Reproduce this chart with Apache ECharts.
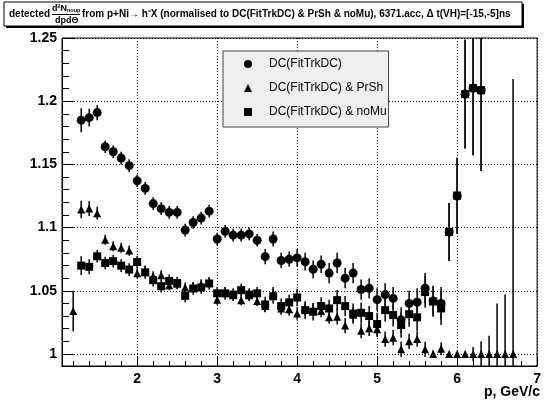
<!DOCTYPE html>
<html>
<head>
<meta charset="utf-8">
<script src="https://cdn.jsdelivr.net/npm/echarts@6/dist/echarts.min.js"></script>
<style>html,body{margin:0;padding:0;background:#fff}#c{width:544px;height:407px}</style>
</head>
<body>
<div id="c"></div>
<script>
// ---- data ----
const pCirc = [1.3,1.4,1.5,1.6,1.7,1.8,1.9,2.0,2.1,2.2,2.3,2.4,2.5,2.6,2.7,2.8,2.9,3.0,3.1,3.2,3.3,3.4,3.5,3.6,3.7,3.8,3.9,4.0,4.1,4.2,4.3,4.4,4.5,4.6,4.7,4.8,4.9,5.0,5.1,5.2,5.3,5.4,5.5,5.6,5.7,5.8,5.9,6.0,6.1,6.2,6.3];
const yCirc = [1.185,1.187,1.191,1.164,1.160,1.155,1.149,1.137,1.131,1.119,1.115,1.112,1.112,1.098,1.104,1.1075,1.113,1.091,1.097,1.094,1.094,1.095,1.090,1.077,1.091,1.074,1.075,1.076,1.073,1.067,1.071,1.064,1.072,1.060,1.064,1.051,1.052,1.043,1.047,1.044,1.027,1.040,1.041,1.052,1.042,1.040,1.0965,1.125,1.2056,1.2103,1.2087];
const eCirc = [0.0095,0.007,0.006,0.005,0.005,0.005,0.005,0.005,0.005,0.005,0.005,0.005,0.005,0.005,0.005,0.005,0.005,0.005,0.005,0.005,0.005,0.005,0.005,0.006,0.006,0.006,0.006,0.007,0.007,0.007,0.007,0.008,0.008,0.008,0.008,0.008,0.008,0.009,0.009,0.009,0.010,0.010,0.011,0.012,0.012,0.013,0.023,0.030,0.043,0.053,0.064];

const pTri = [1.2,1.3,1.4,1.5,1.6,1.7,1.8,1.9,2.0,2.1,2.2,2.3,2.4,2.5,2.6,2.7,2.8,2.9,3.0,3.1,3.2,3.3,3.4,3.5,3.6,3.7,3.8,3.9,4.0,4.1,4.2,4.3,4.4,4.5,4.6,4.7,4.8,4.9,5.0,5.1,5.2,5.3,5.4,5.5,5.6,5.7,5.8,5.9,6.0,6.1,6.2,6.3,6.4,6.5,6.6,6.7];
const yTri = [1.034,1.1143,1.1151,1.1114,1.0904,1.0852,1.0841,1.0818,1.0638,1.066,1.0615,1.0623,1.0544,1.0555,1.0526,1.053,1.0551,1.0566,1.043,1.0491,1.0465,1.0426,1.0465,1.042,1.038,1.048,1.036,1.0353,1.032,1.0355,1.0353,1.034,1.029,1.0294,1.0225,1.031,1.0184,1.0203,1.0195,1.0118,1.0129,1.0037,1.010,1.0118,1.0037,1.000,1.0042,1.000,1.000,1.000,1.000,1.000,1.000,1.000,1.000,1.000];
const eTri = [0.016,0.007,0.006,0.005,0.004,0.004,0.004,0.004,0.004,0.004,0.004,0.004,0.004,0.004,0.004,0.004,0.004,0.004,0.004,0.004,0.004,0.004,0.004,0.004,0.005,0.005,0.005,0.005,0.005,0.005,0.005,0.005,0.005,0.006,0.006,0.006,0.006,0.006,0.006,0.006,0.006,0.006,0.006,0.006,0.006,0.003,0.005,0.001,0.000,0.002,0.0055,0.010,0.0145,0.040,0.047,0.2175];

const pSq = [1.3,1.4,1.5,1.6,1.7,1.8,1.9,2.0,2.1,2.2,2.3,2.4,2.5,2.6,2.7,2.8,2.9,3.0,3.1,3.2,3.3,3.4,3.5,3.6,3.7,3.8,3.9,4.0,4.1,4.2,4.3,4.4,4.5,4.6,4.7,4.8,4.9,5.0,5.1,5.2,5.3,5.4,5.5,5.6,5.7,5.8,5.9,6.0,6.1,6.2,6.3];
const ySq = [1.0699,1.069,1.0773,1.072,1.0735,1.0699,1.0668,1.0728,1.0646,1.0584,1.0536,1.0578,1.0562,1.046,1.0518,1.0526,1.0558,1.048,1.048,1.047,1.0505,1.047,1.048,1.0392,1.0457,1.0379,1.0408,1.0447,1.0347,1.0334,1.0379,1.036,1.0426,1.0379,1.032,1.0326,1.030,1.0237,1.0347,1.0308,1.0229,1.0315,1.029,1.049,1.0415,1.036,1.0965,1.1254,1.2056,1.2103,1.2087];
const eSq = [0.0075,0.006,0.005,0.005,0.005,0.005,0.005,0.005,0.005,0.005,0.005,0.005,0.005,0.005,0.005,0.005,0.005,0.005,0.005,0.005,0.005,0.005,0.005,0.006,0.006,0.006,0.006,0.007,0.007,0.007,0.007,0.007,0.008,0.008,0.008,0.008,0.008,0.009,0.009,0.009,0.010,0.010,0.011,0.0125,0.012,0.013,0.023,0.030,0.043,0.053,0.064];

const seriesNames = ['DC(FitTrkDC)','DC(FitTrkDC) & PrSh','DC(FitTrkDC) & noMu'];
const xMajor = [2,3,4,5,6,7];
const xMinor = [1.2,1.4,1.6,1.8,2.2,2.4,2.6,2.8,3.2,3.4,3.6,3.8,4.2,4.4,4.6,4.8,5.2,5.4,5.6,5.8,6.2,6.4,6.6,6.8];
const yMajor = [1.0,1.05,1.1,1.15,1.2,1.25];
const yMinor = [1.01,1.02,1.03,1.04,1.06,1.07,1.08,1.09,1.11,1.12,1.13,1.14,1.16,1.17,1.18,1.19,1.21,1.22,1.23,1.24];
const X_MIN = 1.06, X_MAX = 7, Y_MIN = 0.9905, Y_MAX = 1.25;

// ---- build ----
const FONT = 'Liberation Sans, Arial, sans-serif';
const TRI = 'path://M5,0L10,10L0,10Z';
const SQ = 'path://M0,0L10,0L10,10L0,10Z';
function pts(p, y) { return p.map((v, i) => [v, y[i]]); }
function errs(p, y, e) { return p.map((v, i) => [v, y[i], e[i]]); }
function errSeries(name, data) {
  return {
    name: name, type: 'custom', clip: true, silent: true, z: 3,
    data: data,
    renderItem: function (params, api) {
      const x = api.value(0), y = api.value(1), e = api.value(2);
      const a = api.coord([x, y + e]), b = api.coord([x, y - e]);
      return { type: 'line', shape: { x1: a[0], y1: a[1], x2: b[0], y2: b[1] },
               style: { stroke: '#111', lineWidth: 1.6 } };
    }
  };
}
const chart = echarts.init(document.getElementById('c'), null, { renderer: 'canvas' });
const gridLine = { show: true, lineStyle: { type: [1, 2], color: '#000', width: 1 } };
const option = {
  animation: false,
  backgroundColor: '#fff',
  grid: { left: 62, right: 4, top: 38, bottom: 41, show: true, borderColor: '#000', borderWidth: 1, backgroundColor: 'transparent' },
  xAxis: [
    { type: 'value', min: X_MIN, max: X_MAX,
      axisLine: { onZero: false, lineStyle: { color: '#000', width: 1 } },
      axisTick: { inside: true, length: 9, customValues: xMajor, lineStyle: { color: '#000' } },
      axisLabel: { customValues: xMajor, color: '#000', fontWeight: 'bold', fontSize: 14, fontFamily: FONT, margin: 6 },
      splitLine: gridLine },
    { type: 'value', min: X_MIN, max: X_MAX, position: 'bottom',
      axisLine: { show: false },
      axisTick: { inside: true, length: 5, customValues: xMinor, lineStyle: { color: '#000' } },
      axisLabel: { show: false }, splitLine: { show: false } }
  ],
  yAxis: [
    { type: 'value', min: Y_MIN, max: Y_MAX,
      axisLine: { show: true, onZero: false, lineStyle: { color: '#000', width: 1 } },
      axisTick: { show: true, inside: true, length: 13, customValues: yMajor, lineStyle: { color: '#000' } },
      axisLabel: { customValues: yMajor, color: '#000', fontWeight: 'bold', fontSize: 14, fontFamily: FONT, margin: 5,
                   formatter: v => String(+v.toFixed(2)) },
      splitLine: gridLine },
    { type: 'value', min: Y_MIN, max: Y_MAX, position: 'left',
      axisLine: { show: false },
      axisTick: { show: true, inside: true, length: 7, customValues: yMinor, lineStyle: { color: '#000' } },
      axisLabel: { show: false }, splitLine: { show: false } }
  ],
  legend: {
    data: seriesNames.map((n, i) => ({ name: n, icon: ['circle', TRI, SQ][i] })),
    orient: 'vertical', left: 223, top: 51,
    itemWidth: 32, itemHeight: 8, itemGap: 10, symbolKeepAspect: true,
    padding: [6, 2, 8, 21],
    backgroundColor: '#efefef', borderColor: '#444', borderWidth: 1, borderRadius: 0,
    textStyle: { color: '#000', fontSize: 12, fontFamily: FONT, lineHeight: 14 },
    itemStyle: { color: '#000' }, selectedMode: false
  },
  series: [
    errSeries('eCirc', errs(pCirc, yCirc, eCirc)),
    { name: seriesNames[0], type: 'scatter', symbol: 'circle', symbolSize: 9, z: 4, clip: true,
      itemStyle: { color: '#000', opacity: 1 }, data: pts(pCirc, yCirc) },
    errSeries('eTri', errs(pTri, yTri, eTri)),
    { name: seriesNames[1], type: 'scatter', symbol: 'triangle', symbolSize: 8, z: 4, clip: true,
      itemStyle: { color: '#000', opacity: 1 }, data: pts(pTri, yTri) },
    errSeries('eSq', errs(pSq, ySq, eSq)),
    { name: seriesNames[2], type: 'scatter', symbol: 'rect', symbolSize: 8, z: 4, clip: true,
      itemStyle: { color: '#000', opacity: 1 }, data: pts(pSq, ySq) }
  ],
  graphic: [
    { type: 'rect', shape: { x: 6, y: 4, width: 518, height: 24 }, style: { fill: '#000' }, z: 10 },
    { type: 'rect', shape: { x: 4, y: 2, width: 518, height: 24 }, style: { fill: '#fff', stroke: '#000', lineWidth: 1 }, z: 11 },
    { type: 'text', x: 9, y: 14.5, z: 12, style: { text: 'detected', font: 'bold 10px ' + FONT, fill: '#000', verticalAlign: 'middle' } },
    { type: 'text', x: 52, y: 8.5, z: 12, style: { text: 'd²N', font: 'bold 9px ' + FONT, fill: '#000', verticalAlign: 'middle' } },
    { type: 'text', x: 67, y: 10.5, z: 12, style: { text: 'noup', font: 'bold 5.5px ' + FONT, fill: '#000', verticalAlign: 'middle' } },
    { type: 'line', shape: { x1: 52, y1: 14.5, x2: 80, y2: 14.5 }, style: { stroke: '#000', lineWidth: 1 }, z: 12 },
    { type: 'text', x: 55, y: 20.5, z: 12, style: { text: 'dpdΘ', font: 'bold 9px ' + FONT, fill: '#000', verticalAlign: 'middle' } },
    { type: 'text', x: 82, y: 14.5, z: 12, style: { text: 'from p+Ni→ h⁻X (normalised to DC(FitTrkDC) & PrSh & noMu), 6371.acc, Δ t(VH)=[-15,-5]ns', font: 'bold 10px ' + FONT, fill: '#000', verticalAlign: 'middle' } },
    { type: 'text', right: 4, top: 385, z: 12, style: { text: 'p, GeV/c', font: 'bold 14px ' + FONT, fill: '#000' } }
  ]
};
chart.setOption(option);
</script>
</body>
</html>
